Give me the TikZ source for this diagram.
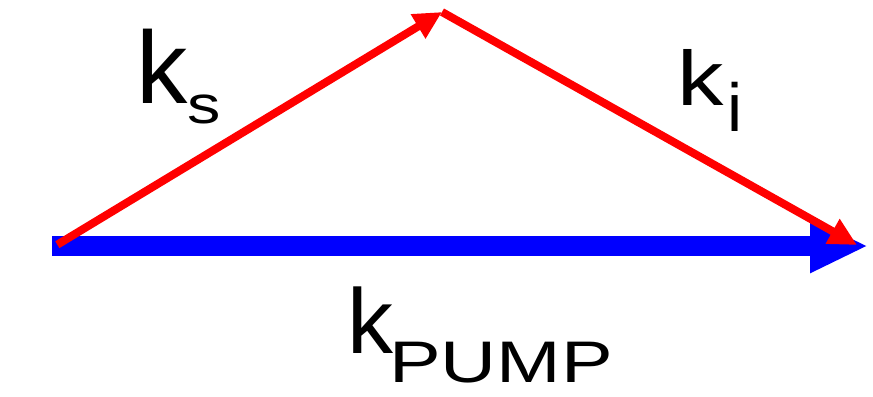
\documentclass[tikz,border=0pt]{standalone}
\usepackage{fontspec}
\usepackage{graphicx}
\setmainfont{Liberation Sans}
\usetikzlibrary{arrows.meta}
\definecolor{PumpBlue}{HTML}{0000FF}
\definecolor{WaveRed}{HTML}{FF0000}
% #1 drop, #2 size, #3 stretch, #4 text
\newcommand{\lowtxt}[4]{\raisebox{-#1}{\scalebox{#3}[1]{\fontsize{#2}{#2}\selectfont #4}}}

\begin{document}
\begin{tikzpicture}[x=0.75pt,y=-0.75pt,
  pumpvec/.style={PumpBlue,line width=15pt,-{Triangle[length=43.5pt,width=37.5pt]}},
  wavevec/.style={WaveRed,line width=6pt,-{Triangle[length=21pt,width=20pt]}},
  klabel/.style={anchor=base west,inner sep=0pt}]
\useasboundingbox (0,0) rectangle (873,396);
% corners of the triangle
\coordinate (origin) at (52,246);
\coordinate (apex) at (442,12);
\coordinate (pumpend) at (868,246);
\coordinate (idlerend) at (857,245);
% vectors
\draw[pumpvec] (origin) -- (pumpend);
\draw[wavevec] ([xshift=4pt,yshift=1pt]origin) -- (apex);
\draw[wavevec] (apex) -- (idlerend);
% labels
\node[klabel,font=\fontsize{77}{80}\selectfont] (ks) at (136,103)
  {k\lowtxt{15pt}{40}{1.25}{s}};
\node[klabel,font=\fontsize{58}{64}\selectfont] (ki) at (677,105)
  {\scalebox{1.2}[1]{k}\hspace{3pt}\lowtxt{20pt}{51}{1}{i}};
\node[klabel,font=\fontsize{69}{72}\selectfont] (kp) at (347,353)
  {k\hspace{-3pt}\lowtxt{22pt}{44}{1.32}{PUMP}};
\end{tikzpicture}
\end{document}
